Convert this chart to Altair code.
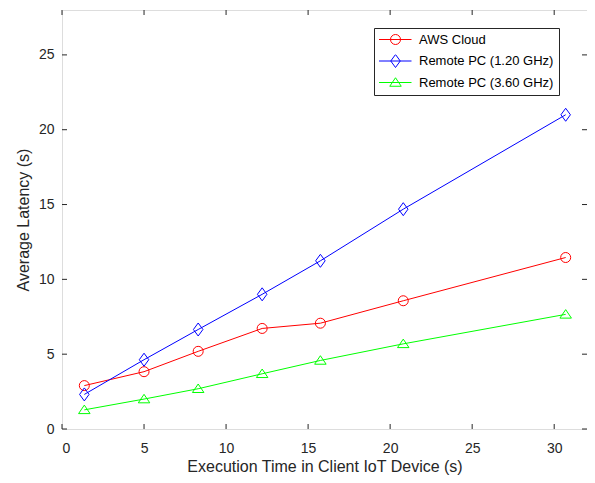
import altair as alt
import pandas as pd

# ---- data ----
exec_time = [1.36, 5.0, 8.3, 12.2, 15.75, 20.8, 30.7]
aws_cloud = [2.9, 3.83, 5.19, 6.72, 7.07, 8.57, 11.46]
pc_120 = [2.31, 4.63, 6.65, 9.0, 11.24, 14.69, 21.0]
pc_360 = [1.28, 2.0, 2.69, 3.69, 4.58, 5.69, 7.66]

series_names = ["AWS Cloud", "Remote PC (1.20 GHz)", "Remote PC (3.60 GHz)"]
series_colors = ["#FF0000", "#0000FF", "#00FF00"]
series_shapes = [
    "circle",
    "M0,-1.3L0.95,0L0,1.3L-0.95,0Z",
    "M0,-0.95L1.15,0.75L-1.15,0.75Z",
]
x_ticks = [0, 5, 10, 15, 20, 25, 30]
y_ticks = [0, 5, 10, 15, 20, 25]

rows = []
for name, vals in zip(series_names, [aws_cloud, pc_120, pc_360]):
    for xv, yv in zip(exec_time, vals):
        rows.append({"x": xv, "y": yv, "series": name, "series2": name})
df = pd.DataFrame(rows)

W, H = 525, 419
FONT = "Liberation Sans"
INK = "#262626"
TICK = 5
PAD_TAIL = "\u00a0" * 4

xs = alt.Scale(domain=[0, 32], nice=False, zero=False)
ys = alt.Scale(domain=[0, 28], nice=False, zero=False)

x_axis = alt.Axis(values=x_ticks, ticks=False, tickSize=0, domain=False, grid=False,
                  labelFont=FONT, labelFontSize=14, labelColor=INK, labelPadding=12,
                  title="Execution Time in Client IoT Device (s)", titleFont=FONT,
                  titleFontSize=16, titleFontWeight="normal", titleColor=INK,
                  titleY=42, titleBaseline="alphabetic")
y_axis = alt.Axis(values=y_ticks, ticks=False, tickSize=0, domain=False, grid=False,
                  labelFont=FONT, labelFontSize=14, labelColor=INK, labelPadding=8,
                  title="Average Latency (s)", titleFont=FONT,
                  titleFontSize=16, titleFontWeight="normal", titleColor=INK, titlePadding=7)

LX, LY = 312, 18

line_legend = alt.Legend(orient="none", legendX=LX, legendY=LY, title=None,
                         symbolType="stroke", symbolSize=1156, symbolStrokeWidth=1,
                         symbolOffset=-2, labelExpr="''", labelFont=FONT, labelFontSize=13,
                         padding=5, rowPadding=7.5, labelOffset=4, clipHeight=13)
point_legend = alt.Legend(orient="none", legendX=LX, legendY=LY, title=None,
                          symbolSize=100, symbolStrokeWidth=1, symbolOffset=10,
                          labelFont=FONT, labelFontSize=13, labelColor="#000000",
                          labelExpr="datum.label + '" + PAD_TAIL + "'",
                          padding=5, rowPadding=7.5, labelOffset=17, clipHeight=13,
                          strokeColor=INK, fillColor="#FFFFFF00")

base = alt.Chart(df)

lines = base.mark_line(strokeWidth=1).encode(
    x=alt.X("x:Q", scale=xs, axis=x_axis),
    y=alt.Y("y:Q", scale=ys, axis=y_axis),
    color=alt.Color("series:N", scale=alt.Scale(domain=series_names, range=series_colors),
                    legend=line_legend),
)

points = base.mark_point(filled=False, size=100, strokeWidth=1, opacity=1).encode(
    x=alt.X("x:Q", scale=xs),
    y=alt.Y("y:Q", scale=ys),
    stroke=alt.Stroke("series2:N", scale=alt.Scale(domain=series_names, range=series_colors),
                      legend=point_legend),
    shape=alt.Shape("series2:N", scale=alt.Scale(domain=series_names, range=series_shapes),
                    legend=point_legend),
)

xt = pd.DataFrame({"t": x_ticks})
yt = pd.DataFrame({"t": y_ticks})

tick_bottom = alt.Chart(xt).mark_rule(color=INK, strokeWidth=1).encode(
    x=alt.X("t:Q", scale=xs), y=alt.value(H), y2=alt.value(H - TICK))
tick_top = alt.Chart(xt).mark_rule(color=INK, strokeWidth=1).encode(
    x=alt.X("t:Q", scale=xs), y=alt.value(0), y2=alt.value(TICK))
tick_left = alt.Chart(yt).mark_rule(color=INK, strokeWidth=1).encode(
    y=alt.Y("t:Q", scale=ys), x=alt.value(0), x2=alt.value(TICK))
tick_right = alt.Chart(yt).mark_rule(color=INK, strokeWidth=1).encode(
    y=alt.Y("t:Q", scale=ys), x=alt.value(W), x2=alt.value(W - TICK))

chart = alt.layer(lines, points, tick_bottom, tick_top, tick_left, tick_right).resolve_scale(
    color="independent"
).properties(
    width=W, height=H,
    autosize=alt.AutoSizeParams(type="none"),
    padding={"left": 54, "top": 2, "right": 0, "bottom": 46},
).configure_view(
    stroke=INK, strokeWidth=1
).configure(
    background="white"
)

chart.save("out.html", embed_options={"renderer": "svg", "actions": False})
